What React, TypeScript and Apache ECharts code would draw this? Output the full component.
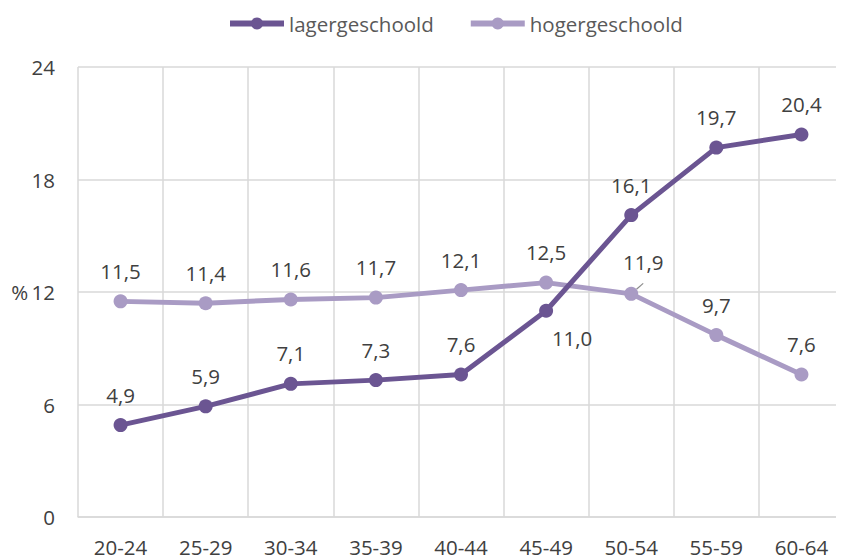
import React, { useEffect, useRef } from "react";
import * as echarts from "echarts";

const categories = ["20-24", "25-29", "30-34", "35-39", "40-44", "45-49", "50-54", "55-59", "60-64"];
const lagerValues = [4.9, 5.9, 7.1, 7.3, 7.6, 11.0, 16.1, 19.7, 20.4];
const hogerValues = [11.5, 11.4, 11.6, 11.7, 12.1, 12.5, 11.9, 9.7, 7.6];
const seriesNames = ["lagergeschoold", "hogergeschoold"];

const LAGER_COLOR = "#6b5592";
const HOGER_COLOR = "#a99bc4";
const TEXT = "#404040";
const FONT = "Open Sans";
const FS = 20.5;

const fmt = (v: number) => v.toFixed(1).replace(".", ",");

export default function App() {
  const ref = useRef<HTMLDivElement>(null);
  useEffect(() => {
    if (!ref.current) return;
    const chart = echarts.init(ref.current, undefined, { renderer: "svg" });
    const labelBase = {
      show: true,
      position: "top" as const,
      distance: 13,
      color: TEXT,
      fontSize: FS,
      fontFamily: FONT,
      formatter: (p: any) => fmt(p.value),
    };
    chart.setOption({
      animation: false,
      textStyle: { fontFamily: FONT },
      legend: {
        top: 8,
        left: 222,
        itemWidth: 54,
        itemHeight: 15,
        itemGap: 34,
        lineStyle: { width: 6 },
        textStyle: { color: "#595959", fontSize: FS, fontFamily: FONT },
        data: seriesNames,
      },
      grid: { left: 78, top: 67, width: 773, height: 450, containLabel: false },
      xAxis: {
        type: "category",
        data: categories,
        boundaryGap: true,
        axisLine: { show: true, lineStyle: { color: "#d9d9d9", width: 1.5 } },
        axisTick: { show: false },
        splitLine: { show: true, lineStyle: { color: "#d9d9d9", width: 1.5 } },
        axisLabel: { color: TEXT, fontSize: FS, fontFamily: FONT, margin: 19, interval: 0 },
      },
      yAxis: {
        type: "value",
        min: 0,
        max: 24,
        interval: 6,
        axisLine: { show: false },
        axisTick: { show: false },
        splitLine: { show: true, lineStyle: { color: "#d9d9d9", width: 1.5 } },
        axisLabel: {
          color: TEXT,
          fontSize: FS,
          fontFamily: FONT,
          margin: 23,
          formatter: (v: number) => (v === 12 ? "%\u200912" : String(v)),
        },
      },
      series: [
        {
          name: seriesNames[0],
          type: "line",
          data: lagerValues.map((v, i) =>
            i === 5
              ? { value: v, label: { position: "bottom", distance: 10, offset: [26, 0] } }
              : v
          ),
          symbol: "circle",
          symbolSize: 14,
          lineStyle: { color: LAGER_COLOR, width: 5 },
          itemStyle: { color: LAGER_COLOR },
          label: labelBase,
          z: 3,
        },
        {
          name: seriesNames[1],
          type: "line",
          data: hogerValues.map((v, i) =>
            i === 6
              ? { value: v, label: { distance: 14, offset: [12, 0] }, labelLine: { show: true } }
              : v
          ),
          symbol: "circle",
          symbolSize: 14,
          lineStyle: { color: HOGER_COLOR, width: 5 },
          itemStyle: { color: HOGER_COLOR },
          label: labelBase,
          labelLine: { show: false, lineStyle: { color: "#8c8c8c", width: 1.2 } },
          z: 2,
        },
      ],
    });
    return () => chart.dispose();
  }, []);
  return <div ref={ref} style={{ width: 844, height: 560, marginLeft: -8, marginTop: -8 }} />;
}
